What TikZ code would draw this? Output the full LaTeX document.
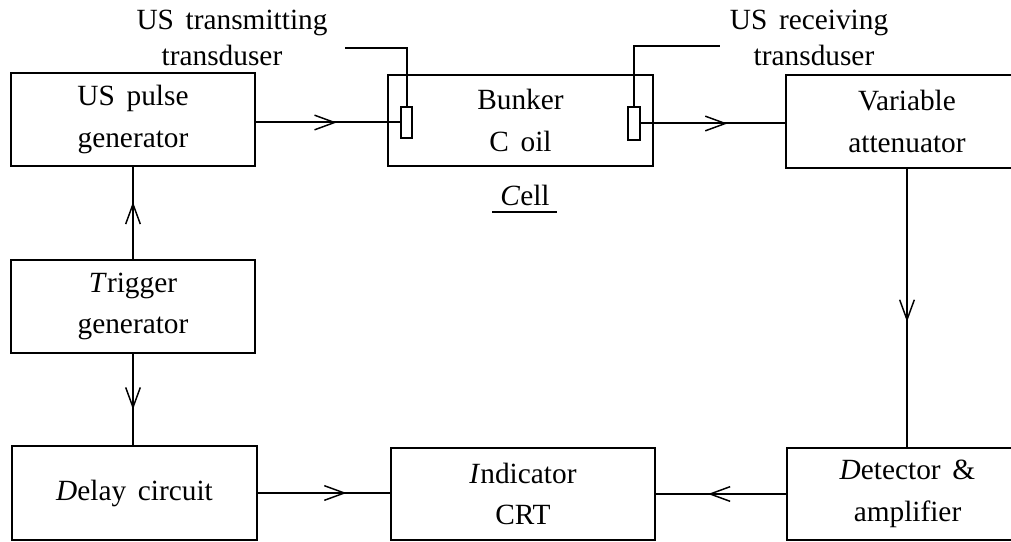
\documentclass[tikz,border=0pt]{standalone}
\usepackage{fontspec}
\setmainfont{Liberation Serif}[WordSpace=1.6]
\usetikzlibrary{arrows.meta,decorations.markings}
\tikzset{
  blk/.style={draw, line width=1.5pt, inner sep=0pt, align=center,
    font=\fontsize{22}{31}\selectfont},
  xdcr/.style={draw, line width=1.5pt, inner sep=0pt, fill=white},
  conn/.style={line width=1.5pt},
  lbl/.style={align=center, inner sep=0pt, font=\fontsize{22}{27}\selectfont},
  midarrow/.style={postaction={decorate}, decoration={markings,
    mark=at position #1 with {\arrow[line width=1.1pt]{Straight Barb[length=15pt,width=11pt]}}}}
}
\begin{document}
\begin{tikzpicture}[x=0.75pt, y=-0.75pt]
\useasboundingbox (0,0) rectangle (1011,542);
\clip (0,0) rectangle (1011,542);
% blocks
\node[blk, minimum width=183pt, minimum height=69.75pt] (pulse) at (133,119.5) {US pulse\\generator};
\node[blk, minimum width=183pt, minimum height=69.75pt] (trig) at (133,306.5) {\textit{T}rigger\\generator};
\node[blk, minimum width=183.75pt, minimum height=70.5pt] (delay) at (134.5,493) {\textit{D}elay circuit};
\node[blk, minimum width=198.75pt, minimum height=68.25pt] (cell) at (520.5,120.5) {Bunker\\C oil};
\node[blk, minimum width=198pt, minimum height=69pt] (ind) at (523,494) {\textit{I}ndicator\\CRT};
\node[blk, minimum width=181.5pt, minimum height=69.75pt] (att) at (907,121.5) {Variable\\attenuator};
\node[blk, minimum width=180.75pt, minimum height=69pt] (det) at (907.5,494) {\textit{D}etector \&\\amplifier};
% transducers
\node[xdcr, minimum width=8.25pt, minimum height=23.25pt] (tx) at (406.5,122.5) {};
\node[xdcr, minimum width=9pt, minimum height=24.75pt] (rx) at (634,123.5) {};
% leads and labels
\coordinate (txl) at (345,48);
\coordinate (rxl) at (720,46);
\draw[conn] (tx.north) |- (txl);
\draw[conn] (rx.north) |- (rxl);
\node[lbl, anchor=base] (txlab) at (232,30) {US transmitting};
\node[lbl, anchor=base] (txlab2) at (222,66) {transduser};
\node[lbl, anchor=base] (rxlab) at (809,30) {US receiving};
\node[lbl, anchor=base] (rxlab2) at (814,66) {transduser};
\node[lbl, anchor=base] (celllab) at (525,205) {\textit{C}ell};
\draw[conn] (492,212) -- (557,212);
% connectors
\draw[conn, midarrow=0.56] (pulse.east |- tx.west) -- (tx.west);
\draw[conn, midarrow=0.60] (rx.east) -- (rx.east -| att.west);
\draw[conn, midarrow=0.55] (att.south) -- (att.south |- det.north);
\draw[conn, midarrow=0.60] (det.west) -- (det.west -| ind.east);
\draw[conn, midarrow=0.67] (delay.east) -- (delay.east -| ind.west);
\draw[conn, midarrow=0.62] (trig.north) -- (trig.north |- pulse.south);
\draw[conn, midarrow=0.61] (trig.south) -- (trig.south |- delay.north);
\end{tikzpicture}
\end{document}
